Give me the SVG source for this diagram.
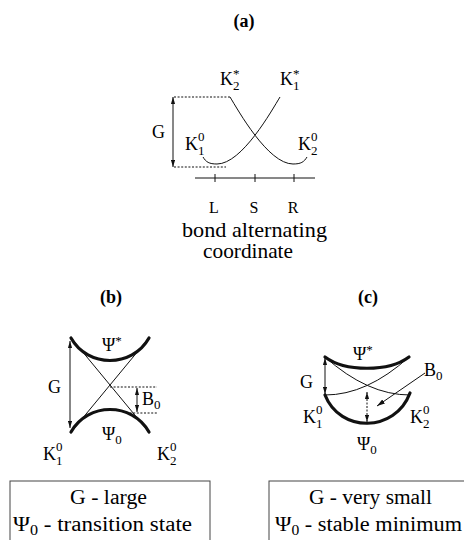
<svg xmlns="http://www.w3.org/2000/svg" width="464" height="540" viewBox="0 0 464 540">
<style>
text{font-family:"Liberation Serif","Times New Roman",serif;fill:#000}
.t{font-size:18px}
.s{font-size:13px}
.b{font-size:20px}
.ax{font-size:16px;text-anchor:middle}
.cap{font-size:21px}
.h{font-size:18px;font-weight:bold;text-anchor:middle}
.thin{fill:none;stroke:#111;stroke-width:1}
.thick{fill:none;stroke:#111;stroke-width:3.2;stroke-linecap:round}
.dot{fill:none;stroke:#111;stroke-width:1.2;stroke-dasharray:2 1.6}
.arr{fill:none;stroke:#111;stroke-width:1;marker-start:url(#ah);marker-end:url(#ah)}
.darr{fill:none;stroke:#111;stroke-width:1;stroke-dasharray:2 1.5;marker-start:url(#ah);marker-end:url(#ah)}
.box{fill:none;stroke:#444;stroke-width:1}
</style>
<defs>
<marker id="ah" viewBox="0 0 10 6" refX="10" refY="3" markerWidth="7" markerHeight="4.2" markerUnits="userSpaceOnUse" orient="auto-start-reverse">
<path d="M0,0 L10,3 L0,6 z" fill="#111"/>
</marker>
<marker id="ah1" viewBox="0 0 10 6" refX="10" refY="3" markerWidth="8" markerHeight="4.8" markerUnits="userSpaceOnUse" orient="auto">
<path d="M0,0 L10,3 L0,6 z" fill="#111"/>
</marker>
</defs>

<!-- Panel (a) -->
<g id="panel-a">
<text id="label-a" class="h" x="244" y="27">(a)</text>
<g id="a-curves">
<path class="thin" d="M230,97 C238,110 268,164 293,164 C301,164 304,162 307,157"/>
<path class="thin" d="M280,97 C272,110 242,164 217,164 C209,164 206,162 203,157"/>
</g>
<g id="a-connectors">
<line class="dot" x1="174" y1="97" x2="230" y2="97"/>
<line class="dot" x1="174" y1="167" x2="226" y2="167"/>
<line class="arr" x1="173" y1="97" x2="173" y2="167"/>
<line class="thin" x1="195" y1="178" x2="315" y2="178"/>
<line class="thin" x1="215" y1="174" x2="215" y2="182"/>
<line class="thin" x1="255" y1="174" x2="255" y2="182"/>
<line class="thin" x1="294" y1="174" x2="294" y2="182"/>
</g>
<g id="a-K2star"><text class="t" x="220" y="85">K<tspan class="s" dy="5">2</tspan><tspan class="s" dx="-6.5" dy="-12">*</tspan></text></g>
<g id="a-K1star"><text class="t" x="280" y="85">K<tspan class="s" dy="5">1</tspan><tspan class="s" dx="-6.5" dy="-12">*</tspan></text></g>
<g id="a-K10"><text class="t" x="185" y="150">K<tspan class="s" dy="-9">0</tspan><tspan class="s" dx="-6.5" dy="14">1</tspan></text></g>
<g id="a-K20"><text class="t" x="298" y="150">K<tspan class="s" dy="-9">0</tspan><tspan class="s" dx="-6.5" dy="14">2</tspan></text></g>
<g id="a-G"><text class="t" x="152" y="138">G</text></g>
<g id="a-axis-labels">
<text class="ax" x="214" y="213">L</text>
<text class="ax" x="254" y="213">S</text>
<text class="ax" x="293" y="213">R</text>
<text class="cap" x="182" y="237" textLength="145" lengthAdjust="spacingAndGlyphs">bond alternating</text>
<text class="cap" x="203" y="258" textLength="90" lengthAdjust="spacingAndGlyphs">coordinate</text>
</g>
</g>

<!-- Panel (b) -->
<g id="panel-b">
<text id="label-b" class="h" x="111" y="303">(b)</text>
<g id="b-curves">
<path class="thick" d="M71,338 C88,368 132,368 149,338"/>
<path class="thick" d="M71,432 C88,402 132,402 149,432"/>
<line class="thin" x1="72" y1="339" x2="148" y2="431"/>
<line class="thin" x1="148" y1="339" x2="72" y2="431"/>
</g>
<g id="b-connectors">
<line class="arr" x1="70" y1="341" x2="70" y2="428"/>
<line class="dot" x1="110" y1="387" x2="157" y2="387"/>
<line class="dot" x1="126" y1="413" x2="157" y2="413"/>
<line class="arr" x1="137" y1="388" x2="137" y2="412"/>
</g>
<g id="b-Psistar"><text class="t" x="102" y="351">Ψ<tspan class="s" dy="-6">*</tspan></text></g>
<g id="b-G"><text class="t" x="48" y="393">G</text></g>
<g id="b-B0"><text class="t" x="142" y="405">B<tspan class="s" dy="4">0</tspan></text></g>
<g id="b-Psi0"><text class="t" x="102" y="440">Ψ<tspan class="s" dy="4">0</tspan></text></g>
<g id="b-K10"><text class="t" x="43" y="460">K<tspan class="s" dy="-9">0</tspan><tspan class="s" dx="-6.5" dy="14">1</tspan></text></g>
<g id="b-K20"><text class="t" x="157" y="460">K<tspan class="s" dy="-9">0</tspan><tspan class="s" dx="-6.5" dy="14">2</tspan></text></g>
<g id="b-box">
<rect class="box" x="10" y="481" width="200" height="80"/>
<text class="b" x="70" y="504" textLength="77" lengthAdjust="spacingAndGlyphs">G - large</text>
<text class="b" x="13" y="531" textLength="179" lengthAdjust="spacingAndGlyphs">Ψ<tspan class="s" style="font-size:14px" dy="4">0</tspan><tspan dy="-4"> - transition state</tspan></text>
</g>
</g>

<!-- Panel (c) -->
<g id="panel-c">
<text id="label-c" class="h" x="368" y="303">(c)</text>
<g id="c-curves">
<path class="thick" d="M325,357 C345,372 389,372 409,357"/>
<path class="thick" d="M325,395 C340,433 395,433 410,393"/>
<path class="thin" d="M325,357 Q367.5,395 410,395"/>
<path class="thin" d="M409,357 Q367,395 325,395"/>
</g>
<g id="c-connectors">
<line class="arr" x1="325" y1="358" x2="325" y2="394"/>
<line class="darr" x1="367" y1="392" x2="367" y2="422"/>
<line class="thin" style="marker-end:url(#ah1)" x1="425" y1="373" x2="377" y2="406"/>
</g>
<g id="c-Psistar"><text class="t" x="353" y="360">Ψ<tspan class="s" dy="-6">*</tspan></text></g>
<g id="c-G"><text class="t" x="300" y="388">G</text></g>
<g id="c-B0"><text class="t" x="424" y="376">B<tspan class="s" dy="4">0</tspan></text></g>
<g id="c-K10"><text class="t" x="303" y="423">K<tspan class="s" dy="-9">0</tspan><tspan class="s" dx="-6.5" dy="14">1</tspan></text></g>
<g id="c-K20"><text class="t" x="410" y="423">K<tspan class="s" dy="-9">0</tspan><tspan class="s" dx="-6.5" dy="14">2</tspan></text></g>
<g id="c-Psi0"><text class="t" x="357" y="450">Ψ<tspan class="s" dy="4">0</tspan></text></g>
<g id="c-box">
<rect class="box" x="269" y="481" width="210" height="80"/>
<text class="b" x="309" y="504" textLength="123" lengthAdjust="spacingAndGlyphs">G - very small</text>
<text class="b" x="275" y="531" textLength="187" lengthAdjust="spacingAndGlyphs">Ψ<tspan class="s" style="font-size:14px" dy="4">0</tspan><tspan dy="-4"> - stable minimum</tspan></text>
</g>
</g>
</svg>
